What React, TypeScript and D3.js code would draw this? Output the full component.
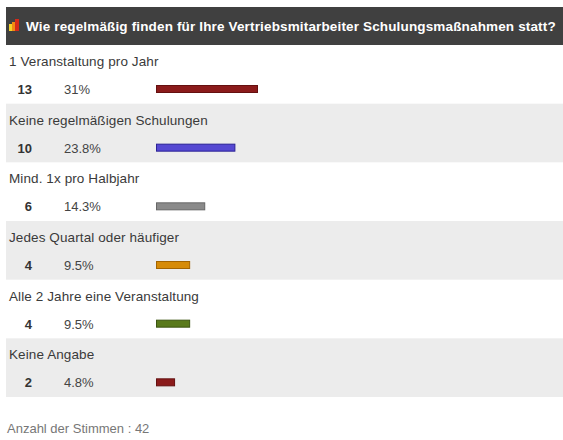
import React from "react";
import * as d3 from "d3";

const title = "Wie regelmäßig finden für Ihre Vertriebsmitarbeiter Schulungsmaßnahmen statt?";
const categories = [
  "1 Veranstaltung pro Jahr",
  "Keine regelmäßigen Schulungen",
  "Mind. 1x pro Halbjahr",
  "Jedes Quartal oder häufiger",
  "Alle 2 Jahre eine Veranstaltung",
  "Keine Angabe",
];
const counts = [13, 10, 6, 4, 4, 2];
const percents = ["31%", "23.8%", "14.3%", "9.5%", "9.5%", "4.8%"];
const fills = ["#8b1b1b", "#5548d2", "#8a8a8a", "#d68b08", "#5a7a1c", "#8b1b1b"];
const strokes = ["#651010", "#2b2296", "#666666", "#a36400", "#3b5410", "#651010"];
const totalLabel = "Anzahl der Stimmen : ";
const totalVotes = 42;

const W = 563;
const H = 440;

export default function App() {
  const rowY = d3.scaleBand<string>().domain(categories).range([45, 397]).padding(0);
  const barX0 = 156;
  const x = d3.scaleLinear().domain([0, d3.max(counts) as number]).range([160, 258]);
  const font = "'Liberation Sans', Arial, Helvetica, sans-serif";
  return (
    <svg
      width={W}
      height={H}
      style={{ position: "absolute", left: 0, top: 0, display: "block", background: "#fff" }}
      fontFamily={font}
    >
      <rect x={6} y={7} width={W - 6} height={38} fill="#404040" />
      <g>
        <rect x={9} y={24} width={3} height={7} fill="#f3d22a" />
        <rect x={12} y={22} width={3} height={9} fill="#f08a12" />
        <rect x={15} y={19} width={4} height={12} fill="#d42a1a" />
      </g>
      <text x={26} y={31} fill="#ffffff" fontWeight="bold" fontSize={13.5} letterSpacing={0.15}>
        {title}
      </text>
      {categories.map((c, i) => {
        const y0 = rowY(c) as number;
        return (
          <g key={c}>
            {i % 2 === 1 && (
              <rect x={6} y={y0} width={W - 6} height={rowY.bandwidth()} fill="#ececec" />
            )}
            <text x={9} y={y0 + 21} fontSize={13.5} letterSpacing={0.1} fill="#3a3a3a">
              {c}
            </text>
            <text x={32} y={y0 + 49} fontSize={13} fontWeight="bold" fill="#333" textAnchor="end">
              {counts[i]}
            </text>
            <text x={64} y={y0 + 49} fontSize={13} fill="#444">
              {percents[i]}
            </text>
            <rect
              x={barX0 + 0.5}
              y={y0 + 40.5}
              width={x(counts[i]) - barX0 - 1}
              height={7}
              fill={fills[i]}
              stroke={strokes[i]}
              strokeWidth={1}
            />
          </g>
        );
      })}
      <text x={7} y={433} fontSize={13} fill="#777">
        {totalLabel}
        {totalVotes}
      </text>
    </svg>
  );
}
